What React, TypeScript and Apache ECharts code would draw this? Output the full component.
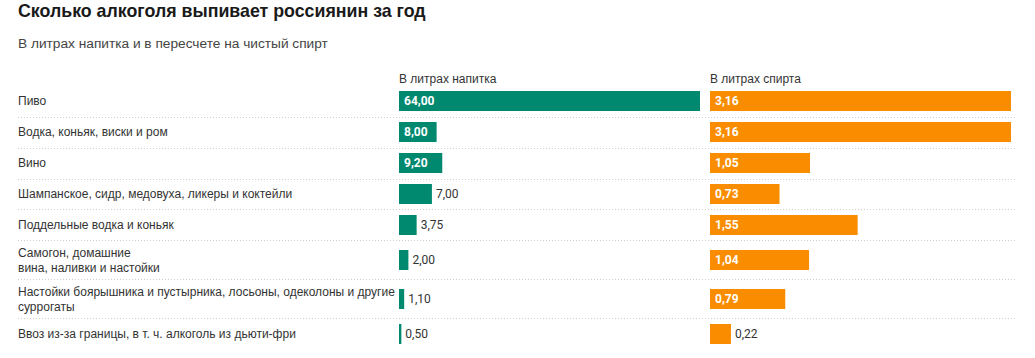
import React, { useEffect, useRef } from "react";
import * as echarts from "echarts";

const title = "Сколько алкоголя выпивает россиянин за год";
const subtitle = "В литрах напитка и в пересчете на чистый спирт";
const columnHeaders = ["В литрах напитка", "В литрах спирта"];
const categories = [
  "Пиво",
  "Водка, коньяк, виски и ром",
  "Вино",
  "Шампанское, сидр, медовуха, ликеры и коктейли",
  "Поддельные водка и коньяк",
  "Самогон, домашние\nвина, наливки и настойки",
  "Настойки боярышника и пустырника, лосьоны, одеколоны и другие\nсуррогаты",
  "Ввоз из-за границы, в т. ч. алкоголь из дьюти-фри",
];
const drinkLiters = [64.0, 8.0, 9.2, 7.0, 3.75, 2.0, 1.1, 0.5];
const spiritLiters = [3.16, 3.16, 1.05, 0.73, 1.55, 1.04, 0.79, 0.22];

// layout
const rowCenters = [101, 132, 163, 194, 225, 260, 299, 334];
const separators = [117, 148, 179, 209, 240, 279, 318];
const colLeft = [399, 710];
const colWidth = 301;
const barH = 20;
const colors = ["#00896f", "#fa8c00"];
const FONT = "'Liberation Sans', Arial, sans-serif";
const VFONT = "Roboto, 'Liberation Sans', sans-serif";

const fmt = (v: number) => v.toFixed(2).replace(".", ",");

export default function App() {
  const ref = useRef<HTMLDivElement>(null);
  useEffect(() => {
    document.body.style.margin = "0";
    if (!ref.current) return;
    const chart = echarts.init(ref.current, null, { renderer: "svg" });
    const cols = [drinkLiters, spiritLiters];
    const grids: any[] = [];
    const xAxes: any[] = [];
    const yAxes: any[] = [];
    const series: any[] = [];
    categories.forEach((cat, r) => {
      cols.forEach((vals, c) => {
        const idx = grids.length;
        const max = Math.max(...vals);
        grids.push({
          left: colLeft[c],
          width: colWidth,
          top: rowCenters[r] - barH / 2,
          height: barH,
          containLabel: false,
        });
        xAxes.push({ gridIndex: idx, type: "value", min: 0, max, show: false });
        yAxes.push({
          gridIndex: idx,
          type: "category",
          data: [cat],
          axisLine: { show: false },
          axisTick: { show: false },
          splitLine: { show: false },
          axisLabel:
            c === 0
              ? {
                  show: true,
                  align: "left",
                  margin: colLeft[0] - 18,
                  fontSize: 12,
                  lineHeight: 15,
                  color: "#333",
                  fontFamily: FONT,
                }
              : { show: false },
        });
        const v = vals[r];
        const inside = v / max >= 0.12;
        series.push({
          type: "bar",
          xAxisIndex: idx,
          yAxisIndex: idx,
          barWidth: barH,
          itemStyle: { color: colors[c] },
          data: [
            {
              value: v,
              label: inside
                ? {
                    show: true,
                    position: "insideLeft",
                    distance: 5,
                    color: "#fff",
                    fontWeight: "bold",
                    fontSize: 12,
                    fontFamily: VFONT,
                    formatter: (p: any) => fmt(p.value),
                  }
                : {
                    show: true,
                    position: "right",
                    distance: 4,
                    color: "#333",
                    fontSize: 12,
                    fontFamily: VFONT,
                    formatter: (p: any) => fmt(p.value),
                  },
            },
          ],
        });
      });
    });

    chart.setOption({
      animation: false,
      backgroundColor: "#fff",
      title: [
        {
          text: title,
          left: 18,
          top: 2,
          padding: 0,
          textStyle: {
            fontFamily: FONT,
            fontWeight: "bold",
            fontSize: 17.8,
            color: "#1a1a1a",
          },
        },
        {
          text: subtitle,
          left: 18,
          top: 36,
          padding: 0,
          textStyle: { fontFamily: FONT, fontWeight: "normal", fontSize: 13.7, color: "#444" },
        },
        ...columnHeaders.map((h, i) => ({
          text: h,
          left: colLeft[i],
          top: 73,
          padding: 0,
          textStyle: { fontFamily: FONT, fontWeight: "normal", fontSize: 12, color: "#333" },
        })),
      ],
      graphic: separators.map((y) => ({
        type: "line",
        shape: { x1: 18, y1: y + 0.5, x2: 1015, y2: y + 0.5 },
        style: { stroke: "#cfcfcf", lineWidth: 1, lineDash: [1, 2] },
        silent: true,
      })),
      grid: grids,
      xAxis: xAxes,
      yAxis: yAxes,
      series,
    });
    return () => chart.dispose();
  }, []);
  return <div ref={ref} style={{ width: 1035, height: 358 }} />;
}
